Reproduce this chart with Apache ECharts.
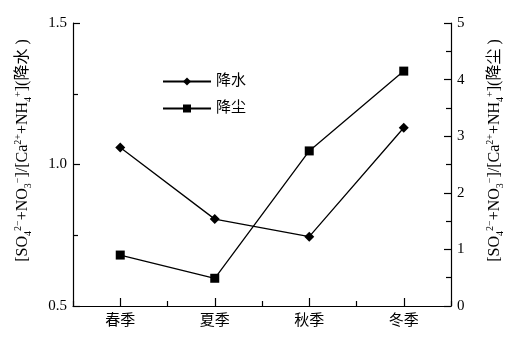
<!DOCTYPE html>
<html>
<head>
<meta charset="utf-8">
<script src="https://cdn.jsdelivr.net/npm/echarts@6/dist/echarts.min.js"></script>
<style>
  html, body { margin: 0; padding: 0; background: #fff; }
  #chart { width: 532px; height: 341px; }
</style>
</head>
<body>
<div id="chart"></div>
<script>
const seasons = ['春季', '夏季', '秋季', '冬季']
const precipitation = [1.06, 0.807, 0.745, 1.13]  // 降水, left axis
const dustfall = [0.9, 0.49, 2.74, 4.15]          // 降尘, right axis

const FONT = '"Liberation Serif", "Noto Sans CJK SC", serif'
const black = '#000'

const chart = echarts.init(document.getElementById('chart'))

const nameRich = {
  m: { fontSize: 16, fontFamily: FONT, color: black, lineHeight: 20, verticalAlign: 'middle' },
  sub: { fontSize: 10, fontFamily: FONT, color: black, lineHeight: 20, verticalAlign: 'bottom' },
  sup: { fontSize: 10, fontFamily: FONT, color: black, lineHeight: 20, verticalAlign: 'top' },
}
function axisName(tag) {
  return '{m|[SO}{sub|4}{sup|2−}{m|+NO}{sub|3}{sup|−}{m|]/[Ca}{sup|2+}{m|+NH}{sub|4}{sup|+}{m|](' + tag + ')}'
}

const lineStyle = { color: black, width: 1.2 }

chart.setOption({
  backgroundColor: '#fff',
  animation: false,
  grid: { left: 73, right: 81, top: 23, bottom: 35 },
  legend: {
    left: 157,
    top: 69,
    orient: 'vertical',
    itemGap: 12,
    itemWidth: 48,
    itemHeight: 10,
    textStyle: { color: black, fontSize: 15, fontFamily: FONT },
    data: ['降水', '降尘'],
  },
  xAxis: [
    {
      type: 'category',
      data: seasons,
      boundaryGap: true,
      axisLine: { show: true, lineStyle: lineStyle },
      axisTick: { show: true, inside: true, alignWithLabel: true, length: 8, lineStyle: lineStyle },
      axisLabel: { show: true, color: black, fontSize: 15, fontFamily: FONT, margin: 8 },
    },
    {
      // between-season minor ticks
      type: 'category',
      data: seasons,
      boundaryGap: true,
      position: 'bottom',
      axisLine: { show: false },
      axisTick: { show: true, inside: true, length: 5, lineStyle: lineStyle },
      axisLabel: { show: false },
    },
  ],
  yAxis: [
    {
      type: 'value',
      min: 0.5, max: 1.5, interval: 0.5,
      position: 'left',
      axisLine: { show: true, lineStyle: lineStyle },
      axisTick: { show: true, inside: true, length: 7, lineStyle: lineStyle },
      minorTick: { show: true, splitNumber: 2, length: 5, lineStyle: lineStyle },
      splitLine: { show: false },
      axisLabel: { show: true, color: black, fontSize: 15, fontFamily: FONT, margin: 6, formatter: (v) => v.toFixed(1) },
      name: axisName('降水 '),
      nameLocation: 'middle',
      nameRotate: 90,
      nameGap: 40,
      nameTextStyle: { rich: nameRich, padding: [0, 0, 0, 28] },
    },
    {
      type: 'value',
      min: 0, max: 5, interval: 1,
      position: 'right',
      axisLine: { show: true, lineStyle: lineStyle },
      axisTick: { show: true, inside: true, length: 7, lineStyle: lineStyle },
      minorTick: { show: true, splitNumber: 2, length: 5, lineStyle: lineStyle },
      splitLine: { show: false },
      axisLabel: { show: true, color: black, fontSize: 15, fontFamily: FONT, margin: 6 },
      name: axisName('降尘 '),
      nameLocation: 'middle',
      nameRotate: 90,
      nameGap: 34,
      nameTextStyle: { rich: nameRich, padding: [0, 0, 0, 28] },
    },
  ],
  series: [
    {
      name: '降水',
      type: 'line',
      data: precipitation,
      yAxisIndex: 0,
      symbol: 'diamond',
      symbolSize: 10,
      itemStyle: { color: black },
      lineStyle: { color: black, width: 1.3 },
    },
    {
      name: '降尘',
      type: 'line',
      data: dustfall,
      yAxisIndex: 1,
      symbol: 'rect',
      symbolSize: 9,
      itemStyle: { color: black },
      lineStyle: { color: black, width: 1.3 },
    },
  ],
})
</script>
</body>
</html>
